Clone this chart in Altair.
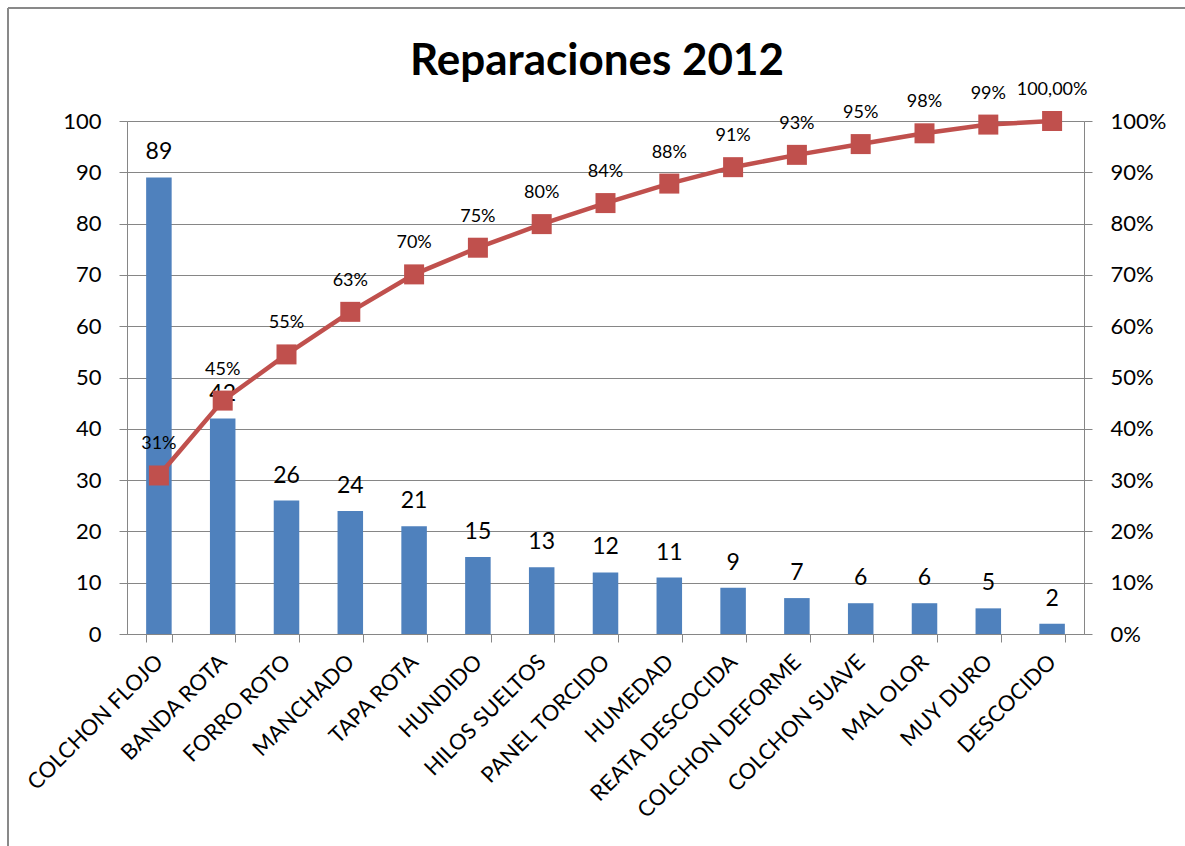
import altair as alt
import pandas as pd

titulo = "Reparaciones 2012"
categorias = ["COLCHON FLOJO", "BANDA ROTA", "FORRO ROTO", "MANCHADO", "TAPA ROTA",
              "HUNDIDO", "HILOS SUELTOS", "PANEL TORCIDO", "HUMEDAD", "REATA DESCOCIDA",
              "COLCHON DEFORME", "COLCHON SUAVE", "MAL OLOR", "MUY DURO", "DESCOCIDO"]
reparaciones = [89, 42, 26, 24, 21, 15, 13, 12, 11, 9, 7, 6, 6, 5, 2]
acumulado = [30.9, 45.5, 54.5, 62.8, 70.1, 75.3, 79.9, 84.0, 87.8, 91.0, 93.4, 95.5, 97.6, 99.3, 100.0]
etiquetas_pct = ["31%", "45%", "55%", "63%", "70%", "75%", "80%", "84%", "88%", "91%",
                 "93%", "95%", "98%", "99%", "100,00%"]

df = pd.DataFrame({
    "cat": categorias,
    "n": reparaciones,
    "pct": acumulado,
    "lbl": etiquetas_pct,
})

FONT = "Lato"
GRID = "#868686"
W, H = 957, 513

xenc = alt.X("cat:N", sort=categorias, title=None,
             scale=alt.Scale(paddingInner=0.6, paddingOuter=0.3),
             axis=alt.Axis(labelAngle=-45, labelAlign="right", labelBaseline="middle",
                           labelFontSize=22, labelPadding=16, tickBand="extent", labelLimit=0,
                           tickSize=8, tickColor=GRID, domainColor=GRID,
                           labelColor="black", labelFont=FONT))

base = alt.Chart(df)

bars = base.mark_bar(color="#4F81BD").encode(
    x=xenc,
    y=alt.Y("n:Q", title=None,
            scale=alt.Scale(domain=[0, 100]),
            axis=alt.Axis(values=list(range(0, 101, 10)), grid=True, gridColor=GRID,
                          tickSize=8, tickColor=GRID, domainColor=GRID,
                          labelFontSize=22, labelPadding=18, labelColor="black",
                          labelFont=FONT, orient="left")),
)

bar_text = base.mark_text(fontSize=23, font=FONT, color="black", baseline="middle", dy=-25).encode(
    x=alt.X("cat:N", sort=categorias),
    y=alt.Y("n:Q"),
    text="n:Q",
)

left = alt.layer(bars, bar_text)

line = base.mark_line(color="#C0504D", strokeWidth=4.5).encode(
    x=alt.X("cat:N", sort=categorias),
    y=alt.Y("pct:Q", title=None,
            scale=alt.Scale(domain=[0, 100]),
            axis=alt.Axis(values=list(range(0, 101, 10)), grid=False,
                          labelExpr="datum.value + '%'",
                          tickSize=8, tickColor=GRID, domainColor=GRID,
                          labelFontSize=22, labelPadding=18, labelColor="black",
                          labelFont=FONT, orient="right")),
)

pts = base.mark_point(shape="square", filled=True, size=400, color="#C0504D", opacity=1).encode(
    x=alt.X("cat:N", sort=categorias),
    y=alt.Y("pct:Q"),
)

pct_text = base.mark_text(fontSize=18, font=FONT, color="black", baseline="middle", dy=-31).encode(
    x=alt.X("cat:N", sort=categorias),
    y=alt.Y("pct:Q"),
    text="lbl:N",
)

right = alt.layer(line, pts, pct_text)

one = pd.DataFrame({"t": [titulo]})
title_mark = alt.Chart(one).mark_text(font=FONT, fontSize=44, fontWeight="bold", color="black",
                                      align="center", baseline="alphabetic").encode(
    x=alt.value(470), y=alt.value(-46), text="t:N")
border_left = alt.Chart(one).mark_rule(color="#898989", strokeWidth=2).encode(
    x=alt.value(-119), y=alt.value(-113), y2=alt.value(900))
border_top = alt.Chart(one).mark_rule(color="#898989", strokeWidth=2).encode(
    x=alt.value(-119), x2=alt.value(1200), y=alt.value(-113))

chart = alt.layer(left, right, title_mark, border_left, border_top).resolve_scale(y="independent").properties(
    width=W, height=H,
    autosize=alt.AutoSizeParams(type="none"),
    padding={"left": 127, "top": 121, "right": 101, "bottom": 212},
).configure_view(stroke=None).configure(background="white")

chart.save("out.html", embed_options={"renderer": "svg", "actions": False})
